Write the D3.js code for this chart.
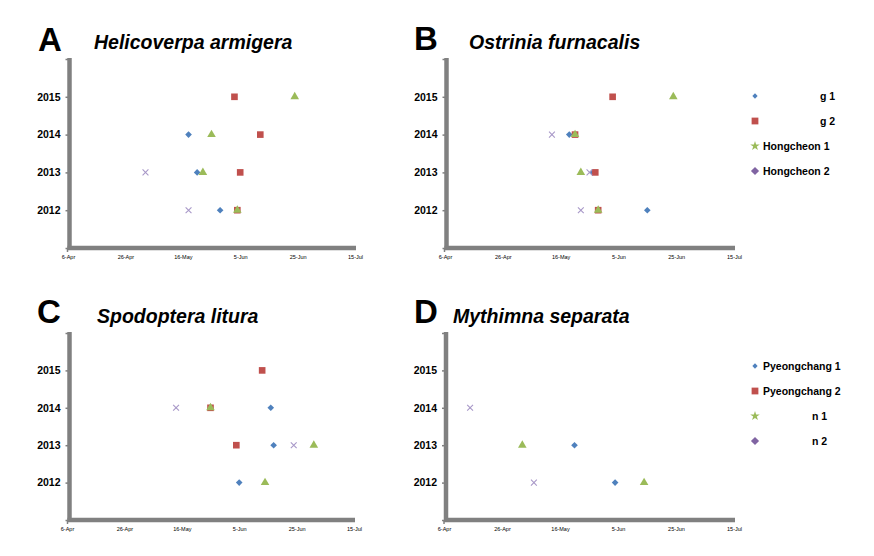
<!DOCTYPE html>
<html><head><meta charset="utf-8">
<script src="https://cdn.jsdelivr.net/npm/d3@7"></script>
<style>
html,body{margin:0;padding:0;background:#fff;}
svg{display:block;font-family:"Liberation Sans",Arial,sans-serif;}
</style></head>
<body><svg id="c" width="874" height="556"></svg>
<script>
// ---- data ----
const years = [2012, 2013, 2014, 2015];
const xTickDates = ["04-06","04-26","05-16","06-05","06-25","07-15"];
const xTickLabels = ["6-Apr","26-Apr","16-May","5-Jun","25-Jun","15-Jul"];
const panelLetters = ["A","B","C","D"];
const speciesNames = ["Helicoverpa armigera","Ostrinia furnacalis","Spodoptera litura","Mythimna separata"];
const seriesColors = ["#4F81BD","#C0504D","#9BBB59","#8064A2"];

// Panel A: Helicoverpa armigera  [year, "MM-DD"]
const A_series1 = [[2014,"05-18"],[2013,"05-21"],[2012,"05-29"]];
const A_series2 = [[2015,"06-03"],[2014,"06-12"],[2013,"06-05"],[2012,"06-04"]];
const A_series3 = [[2015,"06-24"],[2014,"05-26"],[2013,"05-23"],[2012,"06-04"]];
const A_series4 = [[2013,"05-03"],[2012,"05-18"]];
// Panel B: Ostrinia furnacalis
const B_series1 = [[2014,"05-19"],[2013,"05-27"],[2012,"06-15"]];
const B_series2 = [[2015,"06-03"],[2014,"05-21"],[2013,"05-28"],[2012,"05-29"]];
const B_series3 = [[2015,"06-24"],[2014,"05-21"],[2013,"05-23"],[2012,"05-29"]];
const B_series4 = [[2014,"05-13"],[2013,"05-26"],[2012,"05-23"]];
// Panel C: Spodoptera litura
const C_series1 = [[2014,"06-16"],[2013,"06-17"],[2012,"06-05"]];
const C_series2 = [[2015,"06-13"],[2014,"05-26"],[2013,"06-04"]];
const C_series3 = [[2014,"05-26"],[2013,"07-01"],[2012,"06-14"]];
const C_series4 = [[2014,"05-14"],[2013,"06-24"]];
// Panel D: Mythimna separata
const D_series1 = [[2013,"05-21"],[2012,"06-04"]];
const D_series2 = [];
const D_series3 = [[2013,"05-03"],[2012,"06-14"]];
const D_series4 = [[2014,"04-15"],[2012,"05-07"]];

// legends (B and D)
const legendB = ["g 1","g 2","Hongcheon 1","Hongcheon 2"];
const legendD = ["Pyeongchang 1","Pyeongchang 2","n 1","n 2"];

// ---- drawing ----
const parse = s => d3.timeParse("%Y-%m-%d")("2000-" + s);
const svg = d3.select("#c");

const panels = [
  {letter:panelLetters[0], name:speciesNames[0], series:[A_series1,A_series2,A_series3,A_series4],
   xr:[68,355], yr:[248,59], axX:69.5, letterPos:[38,51], titlePos:[94,49], legend:null},
  {letter:panelLetters[1], name:speciesNames[1], series:[B_series1,B_series2,B_series3,B_series4],
   xr:[445,734], yr:[248,59], axX:446.5, letterPos:[414,50], titlePos:[469,49], legend:{items:legendB, y0:96}},
  {letter:panelLetters[2], name:speciesNames[2], series:[C_series1,C_series2,C_series3,C_series4],
   xr:[67,354], yr:[520,333], axX:69.5, letterPos:[37,323], titlePos:[97,323], legend:null},
  {letter:panelLetters[3], name:speciesNames[3], series:[D_series1,D_series2,D_series3,D_series4],
   xr:[444,734], yr:[520,333], axX:446, letterPos:[414,323], titlePos:[453,323], legend:{items:legendD, y0:366}}
];

// rotated square = Excel-style diamond
const markerSyms = [d3.symbolSquare, d3.symbolSquare, d3.symbolTriangle, d3.symbolX];
const markerRot = [45, 0, 0, 0];
const markerSizes = [22, 44, 32, 24];

panels.forEach(p => {
  const g = svg.append("g");
  const x = d3.scaleTime().domain([parse("04-06"), parse("07-15")]).range(p.xr);
  const y = d3.scaleLinear().domain([2011, 2016]).range(p.yr);

  g.append("text").attr("x", p.letterPos[0]).attr("y", p.letterPos[1])
    .attr("font-size", 33).attr("font-weight", "bold").attr("fill", "#000").text(p.letter);
  g.append("text").attr("x", p.titlePos[0]).attr("y", p.titlePos[1])
    .attr("font-size", 19.5).attr("font-weight", "bold").attr("font-style", "italic").attr("fill", "#000").text(p.name);

  // y axis
  const ya = g.append("g").attr("transform", `translate(${p.axX},0)`)
    .call(d3.axisLeft(y).tickValues([2011].concat(years).concat([2016])).tickSize(4).tickSizeOuter(0)
      .tickPadding(5).tickFormat(d => years.includes(d) ? d : ""));
  ya.select(".domain").attr("stroke", "#808080").attr("stroke-width", 4.5)
    .attr("d", `M0,${p.yr[1]-1}V${p.yr[0]+2}`);
  ya.selectAll(".tick line").attr("stroke", "#808080").attr("stroke-width", 1.5);
  ya.selectAll(".tick text").attr("font-size", 10.5).attr("font-weight", "bold").attr("fill", "#000")
    .attr("font-family", "Liberation Sans, Arial, sans-serif");

  // x axis
  const xa = g.append("g").attr("transform", `translate(0,${p.yr[0]})`)
    .call(d3.axisBottom(x).tickValues(xTickDates.map(parse)).tickSize(0).tickSizeOuter(0).tickPadding(7)
      .tickFormat((d, i) => xTickLabels[i]));
  xa.select(".domain").attr("stroke", "#808080").attr("stroke-width", 4.5)
    .attr("d", `M${p.axX - 2},0H${p.xr[1] + 1}`);
  xa.selectAll(".tick text").attr("font-size", 5.5).attr("fill", "#000")
    .attr("font-family", "Liberation Sans, Arial, sans-serif");
  xa.append("line").attr("x1", p.axX - 2).attr("x2", p.axX - 2).attr("y1", 1).attr("y2", 4)
    .attr("stroke", "#808080").attr("stroke-width", 1.5);

  // marks
  p.series.forEach((s, si) => {
    g.append("g").selectAll("path").data(s).join("path")
      .attr("transform", d => `translate(${x(parse(d[1]))},${y(d[0])}) rotate(${markerRot[si]})`)
      .attr("d", d3.symbol().type(markerSyms[si]).size(markerSizes[si]))
      .attr("fill", si === 3 ? "none" : seriesColors[si])
      .attr("stroke", si === 3 ? "#a898c8" : "none")
      .attr("stroke-width", si === 3 ? 1.1 : 0);
  });

  // legend
  if (p.legend) {
    const legSyms = [d3.symbolSquare, d3.symbolSquare, d3.symbolStar, d3.symbolSquare];
    const legRot = [45, 0, 0, 45];
    const legSizes = [14, 46, 28, 34];
    p.legend.items.forEach((t, i) => {
      const ly = p.legend.y0 + i * 25;
      g.append("path").attr("transform", `translate(755,${ly}) rotate(${legRot[i]})`)
        .attr("d", d3.symbol().type(legSyms[i]).size(legSizes[i])).attr("fill", seriesColors[i]);
      const short = t.length <= 3;
      g.append("text").attr("x", short ? (p.legend.items === legendB ? 820 : 812) : 763).attr("y", ly + 4)
        .attr("font-size", 10.5).attr("font-weight", "bold").attr("fill", "#000").text(t);
    });
  }
});
</script></body></html>
